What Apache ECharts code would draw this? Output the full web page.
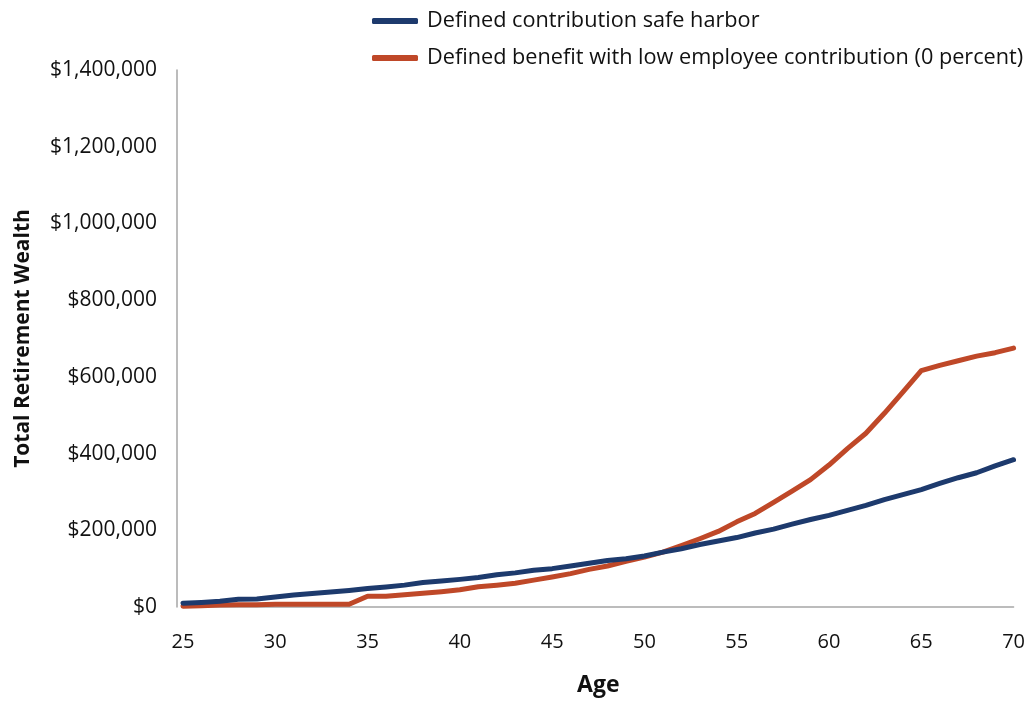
<!DOCTYPE html>
<html>
<head>
<meta charset="utf-8">
<script src="https://cdn.jsdelivr.net/npm/echarts@6/dist/echarts.min.js"></script>
<style>html,body{margin:0;padding:0;background:#fff}#c{width:1028px;height:702px}</style>
</head>
<body>
<div id="c"></div>
<script>
const ages = [25,26,27,28,29,30,31,32,33,34,35,36,37,38,39,40,41,42,43,44,45,46,47,48,49,50,51,52,53,54,55,56,57,58,59,60,61,62,63,64,65,66,67,68,69,70];
const dcSafeHarbor = [10000,12000,15000,20000,21000,26000,31000,35000,39000,43000,48000,52000,57000,64000,68000,72000,77000,84000,89000,96000,100000,107000,114000,121000,126000,133000,143000,152000,163000,172000,181000,193000,203000,216000,228000,239000,252000,265000,280000,293000,306000,322000,337000,350000,368000,384000];
const dbLowEmployee = [2000,3000,5000,6000,6000,7000,7000,7000,7000,7000,28000,28000,32000,36000,40000,45000,53000,57000,62000,70000,78000,87000,98000,107000,119000,130000,143000,160000,178000,197000,222000,244000,273000,302000,332000,370000,413000,453000,505000,560000,616000,630000,642000,654000,663000,675000];
const seriesNames = ['Defined contribution safe harbor','Defined benefit with low employee contribution (0 percent)'];
const xTitle = 'Age';
const yTitle = 'Total Retirement Wealth';

const font = '"Open Sans", "Noto Sans", sans-serif';
const chart = echarts.init(document.getElementById('c'), null, {renderer:'canvas'});
const pair = (xs, ys) => xs.map((x,i)=>[x, ys[i]]);
chart.setOption({
  animation:false,
  textStyle:{fontFamily:font},
  color:['#1d3a6d','#bf4828'],
  legend:{
    orient:'vertical', left:367, top:5, itemGap:15,
    icon:'roundRect', itemWidth:46, itemHeight:6,
    textStyle:{fontSize:21.7, color:'#111', fontFamily:font, padding:[0,0,0,4]},
    data:seriesNames
  },
  grid:{left:183, right:13, top:70, bottom:89, containLabel:false},
  xAxis:{
    type:'value', min:25, max:70, interval:5,
    name:xTitle, nameLocation:'middle', nameGap:67,
    nameTextStyle:{fontSize:23, fontWeight:'bold', color:'#111', fontFamily:font},
    axisLine:{lineStyle:{color:'#a6a6a6', width:1.5}},
    axisTick:{show:false},
    splitLine:{show:false},
    axisLabel:{fontSize:20, color:'#111', margin:25, fontFamily:font}
  },
  yAxis:{
    type:'value', min:0, max:1400000, interval:200000, offset:6,
    name:yTitle, nameLocation:'middle', nameGap:143,
    nameTextStyle:{fontSize:21, fontWeight:'bold', color:'#111', fontFamily:font},
    axisLine:{show:true, lineStyle:{color:'#a6a6a6', width:1.5}},
    axisTick:{show:false},
    splitLine:{show:false},
    axisLabel:{fontSize:21, color:'#111', margin:20, fontFamily:font,
      formatter:v=>'$'+v.toLocaleString('en-US')}
  },
  series:[
    {name:seriesNames[0], type:'line', data:pair(ages,dcSafeHarbor), showSymbol:false,
     lineStyle:{width:5, cap:'round', join:'round'}, z:3},
    {name:seriesNames[1], type:'line', data:pair(ages,dbLowEmployee), showSymbol:false,
     lineStyle:{width:5, cap:'round', join:'round'}, z:2}
  ]
});
</script>
</body>
</html>
